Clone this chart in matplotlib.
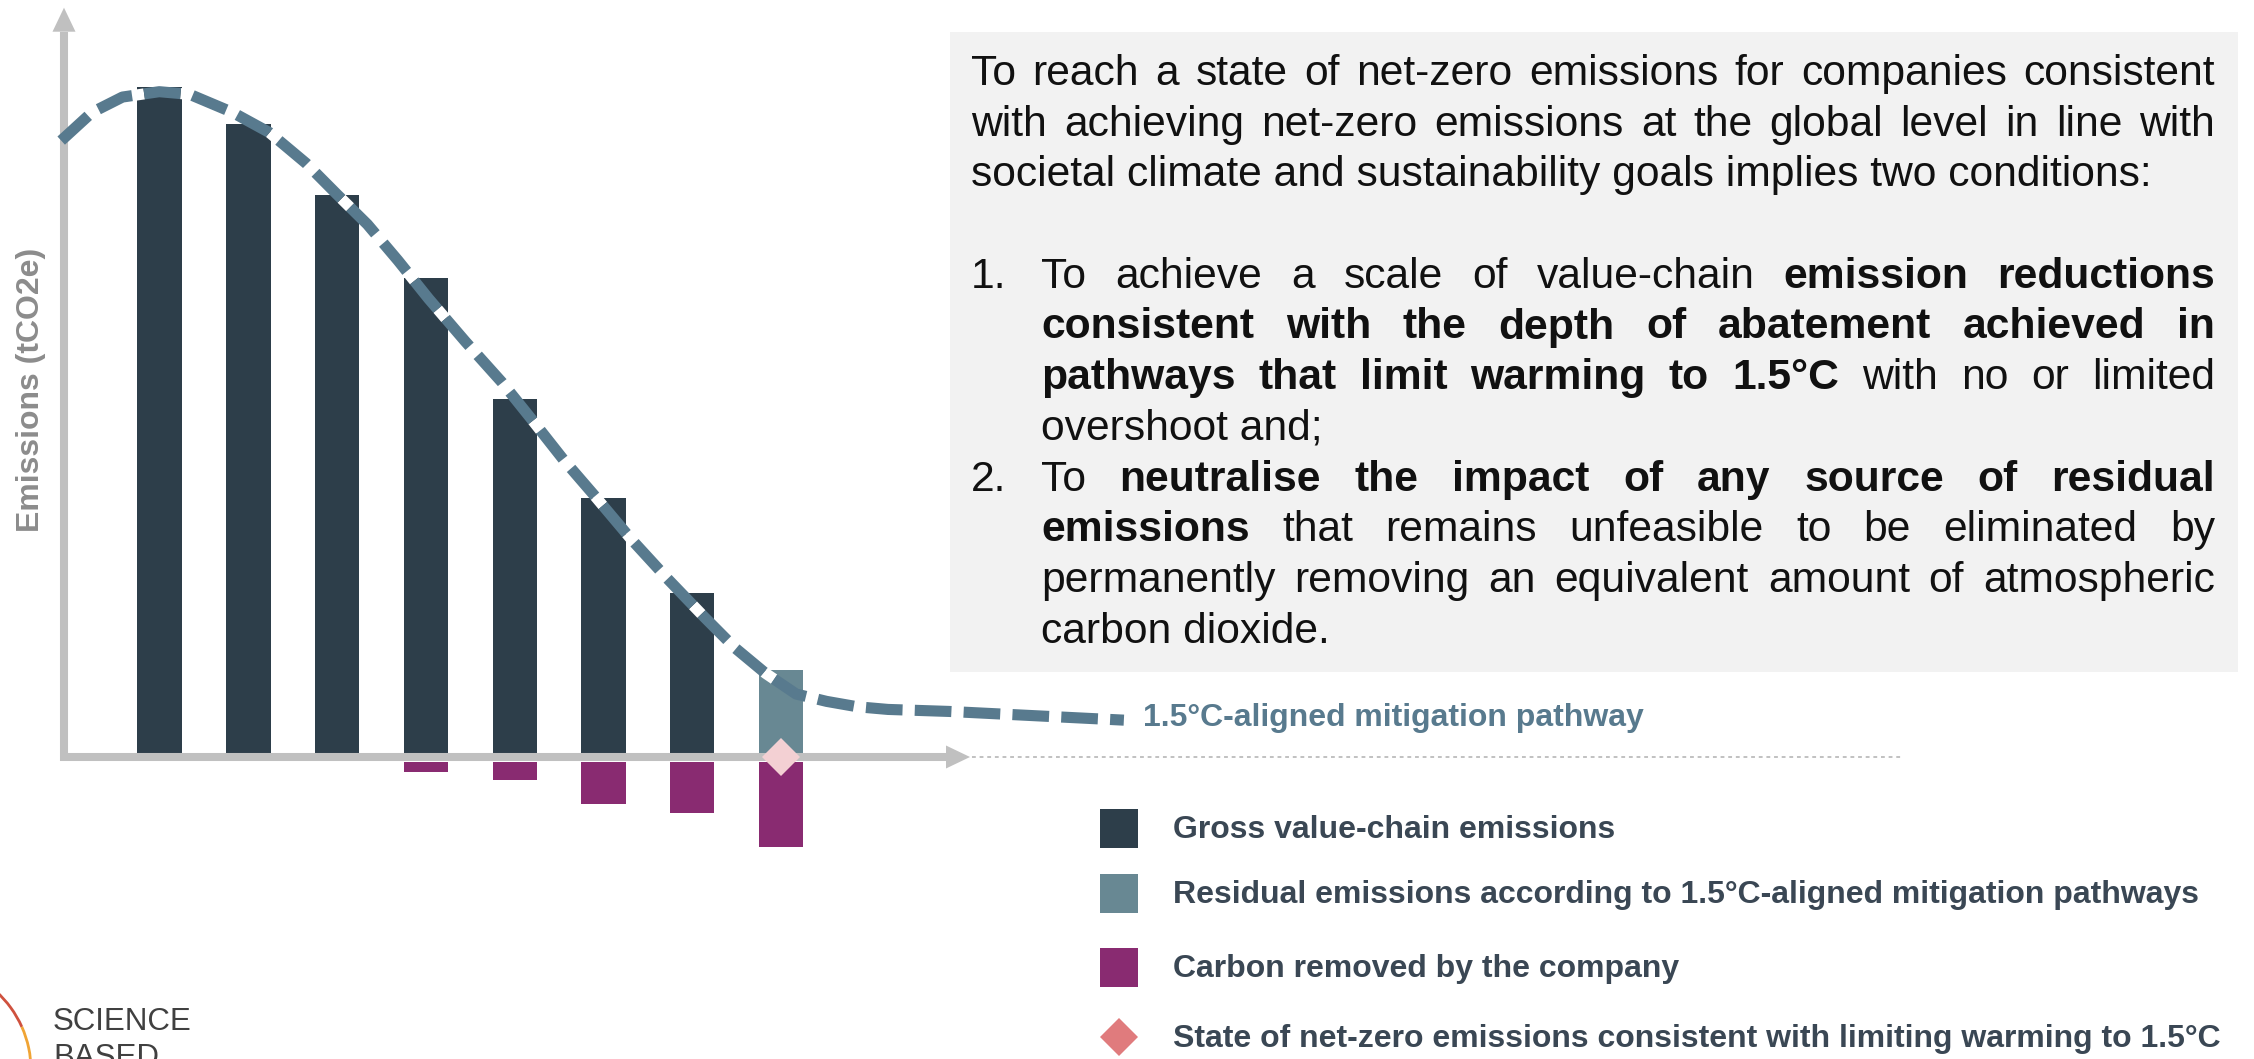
import numpy as np
import matplotlib
matplotlib.use("Agg")
import matplotlib.pyplot as plt
from matplotlib.patches import Rectangle, Polygon, Arc

plt.rcParams['font.family'] = ['Liberation Sans', 'DejaVu Sans']

W, H = 2254, 1059

# ---- data (arbitrary units, first bar = 100) ----
periods = np.arange(8)
gross = [100, 94.5, 83.9, 71.5, 53.4, 38.7, 24.5, 0]
residual = [0, 0, 0, 0, 0, 0, 0, 13.0]
removed = [0, 0, 0, 2.2, 3.5, 7.0, 8.3, 13.4]
net_zero_period = 7

path_x = [-1.107, -0.761, -0.417, -0.003, 0.341, 0.824, 1.238, 1.652, 1.997,
          2.341, 2.686, 3.031, 3.445, 3.858, 4.203, 4.548, 4.893, 5.306,
          5.721, 6.134, 6.479, 6.824, 7.169, 7.513, 7.858, 8.203, 8.893, 10.86]
path_y = [92.0, 96.2, 98.5, 99.3, 98.9, 96.2, 93.2, 88.6, 84.0,
          79.5, 74.1, 68.4, 62.0, 55.9, 50.2, 44.4, 39.1, 32.6,
          26.6, 20.9, 16.3, 12.5, 9.4, 8.3, 7.5, 7.1, 6.8, 5.5]

ylabel = "Emissions (tCO2e)"
path_label = "1.5°C-aligned mitigation pathway"
legend_labels = ["Gross value-chain emissions",
                 "Residual emissions according to 1.5°C-aligned mitigation pathways",
                 "Carbon removed by the company",
                 "State of net-zero emissions consistent with limiting warming to 1.5°C"]

box_lines = [
    ("", [("To reach a state of net-zero emissions for companies consistent", False)], True),
    ("", [("with achieving net-zero emissions at the global level in line with", False)], True),
    ("", [("societal climate and sustainability goals implies two conditions:", False)], False),
    None,
    ("1.", [("To achieve a scale of value-chain", False), ("emission reductions", True)], True),
    ("", [("consistent with the depth of abatement achieved in", True)], True),
    ("", [("pathways that limit warming to 1.5°C", True), ("with no or limited", False)], True),
    ("", [("overshoot and;", False)], False),
    ("2.", [("To", False), ("neutralise the impact of any source of residual", True)], True),
    ("", [("emissions", True), ("that remains unfeasible to be eliminated by", False)], True),
    ("", [("permanently removing an equivalent amount of atmospheric", False)], True),
    ("", [("carbon dioxide.", False)], False),
]

# colours
DARK = '#2d3e4a'
RESID = '#688893'
PURPLE = '#892b71'
CURVE = '#587a8e'
AXIS = '#c0c0c0'
PINK = '#f3d0d3'
DIAMOND = '#e07b7d'
LEGTXT = '#3a4754'

# pixel layout of the chart area
X0, DX = 159.5, 88.8   # pixel x of first bar, pixels per period
Y0, DY = 757, 6.7      # pixel y of zero line, pixels per unit

fig = plt.figure(figsize=(W / 100, H / 100), dpi=100)
ax = fig.add_axes([0, 0, 1, 1])
ax.set_xlim(-X0 / DX, (W - X0) / DX)
ax.set_ylim((Y0 - H) / DY, Y0 / DY)
ax.axis('off')

# bars
ax.bar(periods, gross, width=0.5, color=DARK, zorder=2)
ax.bar(periods, residual, width=0.5, color=RESID, zorder=2)
rem = np.array(removed)
gap = 0.75
m = rem > 0
ax.bar(periods[m], -(rem[m] - gap), bottom=-gap, width=0.5, color=PURPLE, zorder=2)

# axes with arrow heads
ax_x0 = (64 - X0) / DX
x_tip = (970 - X0) / DX
y_tip = (Y0 - 7.7) / DY
head_l, head_w = 24, 11.5
ax.plot([net_zero_period, (1902 - X0) / DX], [0, 0], color='#b0b0b0',
        lw=1.1, dashes=(2.5, 2.5), zorder=1)
ax.plot([ax_x0, ax_x0], [-4 / DY, y_tip - head_l / DY], color=AXIS, lw=5.8,
        solid_capstyle='butt', zorder=3)
ax.plot([ax_x0 - 4 / DX, x_tip - head_l / DX], [0, 0], color=AXIS, lw=5.8,
        solid_capstyle='butt', zorder=3)
ax.add_patch(Polygon([[ax_x0 - head_w / DX, y_tip - head_l / DY],
                      [ax_x0 + head_w / DX, y_tip - head_l / DY],
                      [ax_x0, y_tip]], closed=True, fc=AXIS, ec='none', zorder=3))
ax.add_patch(Polygon([[x_tip - head_l / DX, head_w / DY],
                      [x_tip - head_l / DX, -head_w / DY],
                      [x_tip, 0]], closed=True, fc=AXIS, ec='none', zorder=3))

# pathway curve
ax.plot(path_x, path_y, color=CURVE, lw=8, dashes=(3.3, 1.1), gapcolor='white',
        dash_capstyle='butt', zorder=5)
ax.plot([net_zero_period], [0], 'D', ms=19.4, color=PINK, mew=0, zorder=6)

# overlay in pixel coordinates
ov = fig.add_axes([0, 0, 1, 1], zorder=3)
ov.set_xlim(0, W)
ov.set_ylim(H, 0)
ov.axis('off')

ov.text(31, 390, ylabel, rotation=90, ha='center', va='center', fontsize=23,
        fontweight='bold', color='#8c8c8c')
ov.text(1143, 718, path_label, ha='left', va='center', fontsize=23,
        fontweight='bold', color=CURVE)

# text box
ov.add_patch(Rectangle((950, 32), 1288, 640, fc='#f2f2f2', ec='none', zorder=0))
FS = 30.7
left, indent, right = 971, 1041, 2215
r = fig.canvas.get_renderer()


def measure(s, bold):
    t = ov.text(0, 0, s, fontsize=FS, fontweight='bold' if bold else 'normal')
    w = t.get_window_extent(renderer=r).width
    t.remove()
    return w


for k, line in enumerate(box_lines):
    if line is None:
        continue
    num, segs, justify = line
    base = 85 + 50.7 * k
    x_start = left
    if num:
        ov.text(left, base, num, fontsize=FS, va='baseline', color='#111111')
    if num or k > 3:
        x_start = indent
    if not justify:
        ov.text(x_start, base, segs[0][0], fontsize=FS, va='baseline', color='#111111')
        continue
    words = [(w, b) for s, b in segs for w in s.split()]
    widths = [measure(w, b) for w, b in words]
    space = (right - x_start - sum(widths)) / (len(words) - 1)
    x = x_start
    for (w, b), wd in zip(words, widths):
        ov.text(x, base, w, fontsize=FS, va='baseline', color='#111111',
                fontweight='bold' if b else 'normal')
        x += wd + space

# legend
leg_y = [828, 893, 967, 1037]
leg_colors = [DARK, RESID, PURPLE]
for yc, c in zip(leg_y[:3], leg_colors):
    ov.add_patch(Rectangle((1100, yc - 19.5), 38, 39, fc=c, ec='none'))
ov.plot([1119], [leg_y[3]], 'D', ms=19.4, color=DIAMOND, mew=0)
for yc, lab in zip(leg_y, legend_labels):
    ov.text(1173, yc + 2, lab, ha='left', va='center', fontsize=23,
            fontweight='bold', color=LEGTXT)

# logo
ov.add_patch(Arc((-75, 1070), 212, 212, theta1=-48, theta2=-24, color='#cf513e', lw=2))
ov.add_patch(Arc((-75, 1070), 212, 212, theta1=-24, theta2=0, color='#f0a434', lw=2))
ov.text(53, 1030, "SCIENCE", fontsize=22.5, va='baseline', color='#404040')
ov.text(53, 1066, "BASED", fontsize=22.5, va='baseline', color='#404040')

fig.savefig('out.png', dpi=100)
